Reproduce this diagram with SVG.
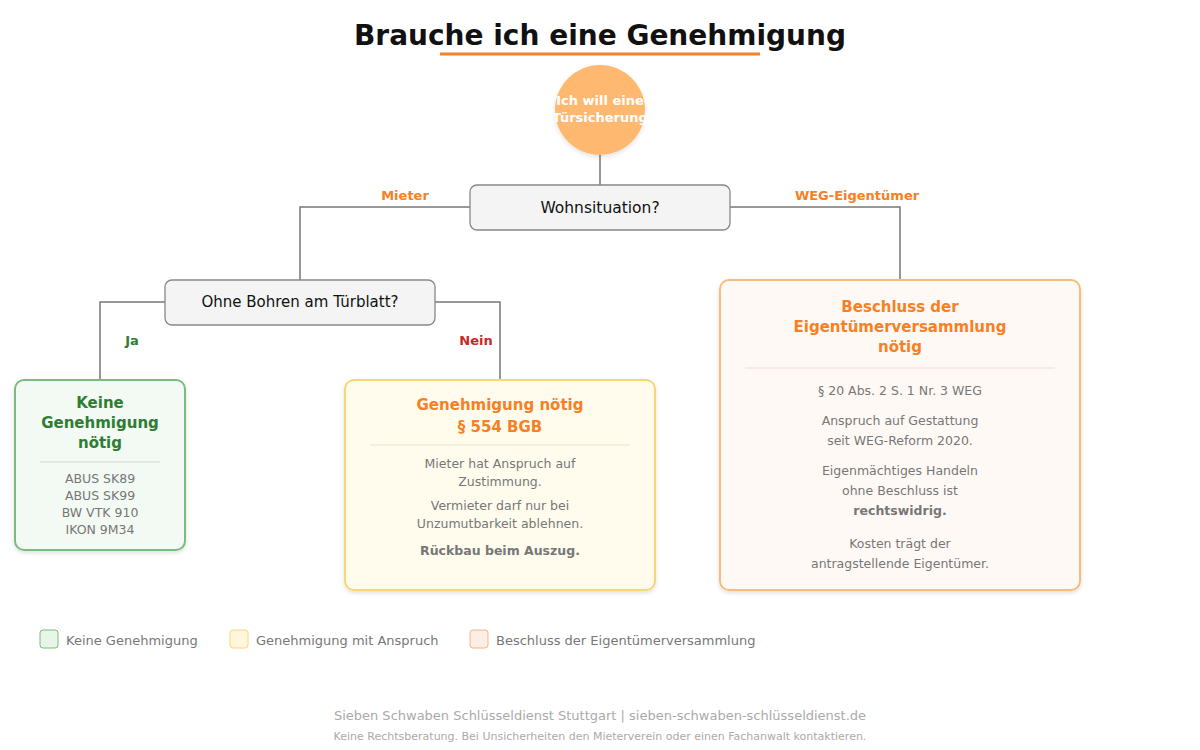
<svg xmlns="http://www.w3.org/2000/svg" width="1200" height="750" viewBox="0 0 1200 750">
<defs>
<filter id="sh" x="-10%" y="-10%" width="120%" height="130%"><feDropShadow dx="0" dy="2" stdDeviation="2" flood-color="#000" flood-opacity="0.12"/></filter>
</defs>
<style>
text{font-family:"DejaVu Sans",sans-serif;text-anchor:middle}
.c{fill:none;stroke:#777;stroke-width:1.5}
.q{fill:#f4f4f4;stroke:#888;stroke-width:1.3}
.qt{font-size:15.5px;fill:#111}
.qs{font-size:15px;fill:#111}
.lb{font-size:13px;font-weight:bold}
.sm{font-size:12.5px;fill:#777}
.hd{font-size:15px;font-weight:bold}
.lg{font-size:13px;fill:#777;text-anchor:start}
</style>
<rect width="1200" height="750" fill="#fff"/>
<text x="600" y="45" font-size="28" font-weight="bold" fill="#111">Brauche ich eine Genehmigung</text>
<line x1="440" y1="54" x2="760" y2="54" stroke="#f58025" stroke-width="3"/>
<g id="connectors">
<path class="c" d="M600 155V185M470 207H300V280M730 207H900V280M165 302H100V380M435 302H500V380"/>
<text class="lb" x="405" y="200" fill="#f58025">Mieter</text>
<text class="lb" x="857" y="200" fill="#f58025">WEG-Eigentümer</text>
<text class="lb" x="132" y="345" fill="#2e7d32">Ja</text>
<text class="lb" x="476" y="345" fill="#c62828">Nein</text>
</g>
<g id="start">
<circle cx="600" cy="110" r="45" fill="#ffb870" filter="url(#sh)"/>
<text x="600" y="105" font-size="13" font-weight="bold" fill="#fff">Ich will eine</text>
<text x="600" y="122" font-size="13" font-weight="bold" fill="#fff">Türsicherung</text>
</g>
<g id="wohn"><rect class="q" x="470" y="185" width="260" height="45" rx="7"/><text class="qt" x="600" y="213">Wohnsituation?</text></g>
<g id="bohren"><rect class="q" x="165" y="280" width="270" height="45" rx="7"/><text class="qs" x="300" y="307">Ohne Bohren am Türblatt?</text></g>
<g id="keine">
<rect x="15" y="380" width="170" height="170" rx="9" fill="#f3faf3" stroke="#7cbb7f" stroke-width="2" filter="url(#sh)"/>
<text class="hd" fill="#2e7d32" x="100" y="408">Keine</text>
<text class="hd" fill="#2e7d32" x="100" y="428">Genehmigung</text>
<text class="hd" fill="#2e7d32" x="100" y="448">nötig</text>
<line x1="40" y1="462" x2="160" y2="462" stroke="#dde6dd" stroke-width="1.5"/>
<text class="sm" x="100" y="483">ABUS SK89</text>
<text class="sm" x="100" y="500">ABUS SK99</text>
<text class="sm" x="100" y="517">BW VTK 910</text>
<text class="sm" x="100" y="534">IKON 9M34</text>
</g>
<g id="geneh">
<rect x="345" y="380" width="310" height="210" rx="9" fill="#fffcee" stroke="#f7d774" stroke-width="2" filter="url(#sh)"/>
<text class="hd" fill="#f58025" x="500" y="410">Genehmigung nötig</text>
<text class="hd" fill="#f58025" x="500" y="432">§ 554 BGB</text>
<line x1="370" y1="445" x2="630" y2="445" stroke="#f0ebd6" stroke-width="1.5"/>
<text class="sm" x="500" y="468">Mieter hat Anspruch auf</text>
<text class="sm" x="500" y="486">Zustimmung.</text>
<text class="sm" x="500" y="510">Vermieter darf nur bei</text>
<text class="sm" x="500" y="528">Unzumutbarkeit ablehnen.</text>
<text class="sm" x="500" y="555" font-weight="bold">Rückbau beim Auszug.</text>
</g>
<g id="beschluss">
<rect x="720" y="280" width="360" height="310" rx="9" fill="#fff9f5" stroke="#f7bd7f" stroke-width="2" filter="url(#sh)"/>
<text class="hd" fill="#f58025" x="900" y="312">Beschluss der</text>
<text class="hd" fill="#f58025" x="900" y="332">Eigentümerversammlung</text>
<text class="hd" fill="#f58025" x="900" y="352">nötig</text>
<line x1="745" y1="368" x2="1055" y2="368" stroke="#f3e4dc" stroke-width="1.5"/>
<text class="sm" x="900" y="395">§ 20 Abs. 2 S. 1 Nr. 3 WEG</text>
<text class="sm" x="900" y="425">Anspruch auf Gestattung</text>
<text class="sm" x="900" y="445">seit WEG-Reform 2020.</text>
<text class="sm" x="900" y="475">Eigenmächtiges Handeln</text>
<text class="sm" x="900" y="495">ohne Beschluss ist</text>
<text class="sm" x="900" y="515" font-weight="bold">rechtswidrig.</text>
<text class="sm" x="900" y="548">Kosten trägt der</text>
<text class="sm" x="900" y="568">antragstellende Eigentümer.</text>
</g>
<g id="legend">
<rect x="40" y="630" width="18" height="18" rx="3" fill="#e8f5e9" stroke="#7cbb7f"/>
<text class="lg" x="66" y="645">Keine Genehmigung</text>
<rect x="230" y="630" width="18" height="18" rx="3" fill="#fff7dc" stroke="#f7d774"/>
<text class="lg" x="256" y="645">Genehmigung mit Anspruch</text>
<rect x="470" y="630" width="18" height="18" rx="3" fill="#fdeee4" stroke="#f0b48f"/>
<text class="lg" x="496" y="645">Beschluss der Eigentümerversammlung</text>
</g>
<text x="600" y="720" font-size="13" fill="#aaa">Sieben Schwaben Schlüsseldienst Stuttgart | sieben-schwaben-schlüsseldienst.de</text>
<text x="600" y="740" font-size="11" fill="#aaa">Keine Rechtsberatung. Bei Unsicherheiten den Mieterverein oder einen Fachanwalt kontaktieren.</text>
</svg>
